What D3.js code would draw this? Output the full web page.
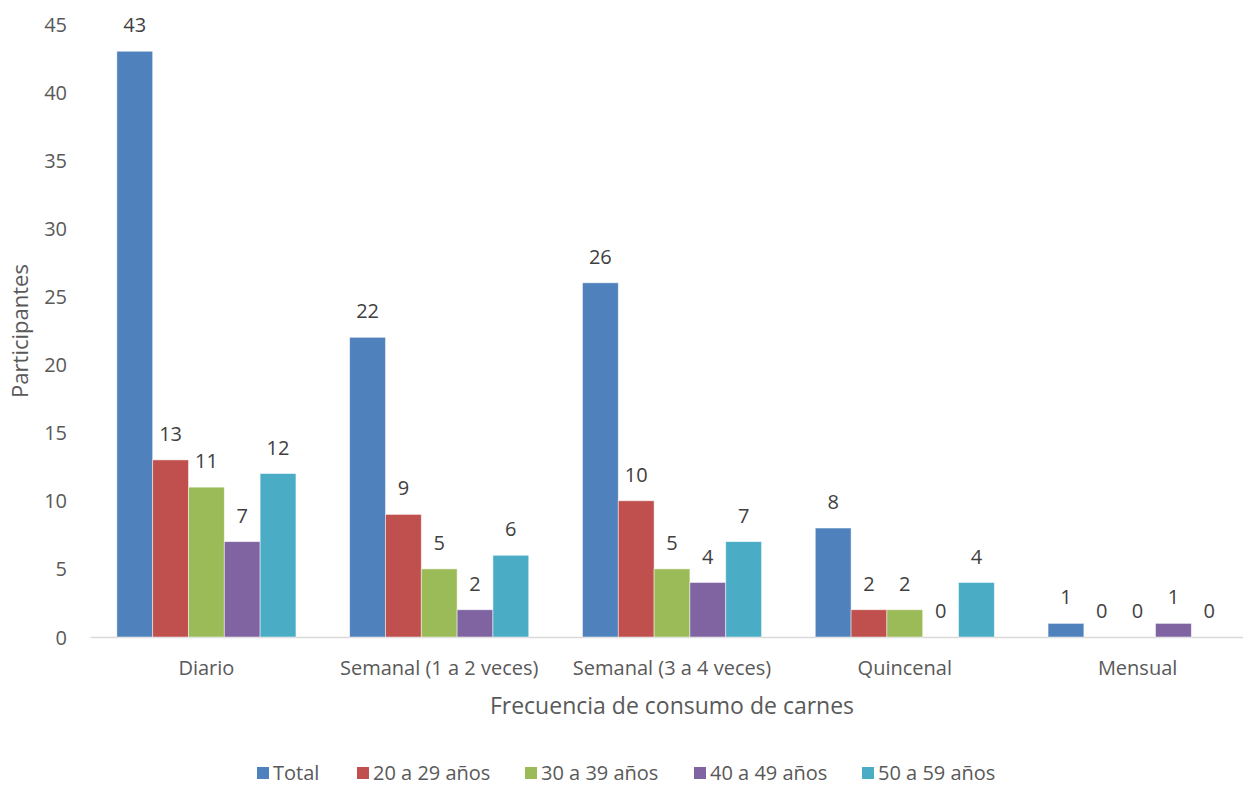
<!DOCTYPE html>
<html>
<head>
<meta charset="utf-8">
<script src="https://cdn.jsdelivr.net/npm/d3@7"></script>
<style>
  html, body { margin: 0; padding: 0; background: #fff; }
  svg { display: block; font-family: "Open Sans", "Noto Sans", sans-serif; }
</style>
</head>
<body>
<svg id="chart" width="1243" height="786"></svg>
<script>
// Frequency of meat consumption, by age group
const categories = ["Diario", "Semanal (1 a 2 veces)", "Semanal (3 a 4 veces)", "Quincenal", "Mensual"];
const seriesNames = ["Total", "20 a 29 años", "30 a 39 años", "40 a 49 años", "50 a 59 años"];
const total   = [43, 22, 26, 8, 1];
const age2029 = [13, 9, 10, 2, 0];
const age3039 = [11, 5, 5, 2, 0];
const age4049 = [7, 2, 4, 0, 1];
const age5059 = [12, 6, 7, 4, 0];
const yTicks = [0, 5, 10, 15, 20, 25, 30, 35, 40, 45];
const colors = ["#4f81bd", "#c0504d", "#9bbb59", "#8064a2", "#4bacc6"];

const seriesValues = [total, age2029, age3039, age4049, age5059];
const FONT = '"Open Sans", "Noto Sans", sans-serif';

const svg = d3.select("#chart");

const plot = { left: 90, right: 1254, top: 24, bottom: 637 };

const y = d3.scaleLinear().domain([0, 45]).range([plot.bottom, plot.top]);
const x0 = d3.scaleBand().domain(categories).range([plot.left, plot.right]).paddingInner(0).paddingOuter(0);
const x1 = d3.scaleBand().domain(seriesNames).range([0, x0.bandwidth()]).paddingOuter(0.75).paddingInner(0);

// y-axis tick labels (no axis line, no gridlines)
const yAxis = d3.axisLeft(y).tickValues(yTicks).tickSize(0).tickPadding(0);
const yg = svg.append("g").attr("transform", `translate(67,0)`).call(yAxis)
  .attr("font-family", FONT).attr("font-size", 20);
yg.select(".domain").remove();
yg.selectAll("text").attr("fill", "#595959").attr("dy", "0.35em");

// category axis
const xAxis = d3.axisBottom(x0).tickSize(0).tickPadding(0);
const xg = svg.append("g").attr("transform", `translate(0,${plot.bottom})`).call(xAxis)
  .attr("font-family", FONT).attr("font-size", 20);
xg.select(".domain").attr("stroke", "#d9d9d9").attr("stroke-width", 1.3);
xg.selectAll("text").attr("fill", "#595959").attr("y", 38).attr("dy", 0);

// bars
const groups = svg.append("g").selectAll("g")
  .data(categories)
  .join("g")
  .attr("transform", d => `translate(${x0(d)},0)`);

const rows = (c, ci) => seriesNames.map((s, si) => ({ s, si, v: seriesValues[si][ci] }));

groups.selectAll("rect")
  .data((c, ci) => rows(c, ci))
  .join("rect")
  .attr("x", d => x1(d.s))
  .attr("width", x1.bandwidth())
  .attr("y", d => y(d.v))
  .attr("height", d => y(0) - y(d.v))
  .attr("fill", d => colors[d.si])
  .attr("stroke", "#ffffff")
  .attr("stroke-opacity", 0.6)
  .attr("stroke-width", 0.8);

// value labels
groups.selectAll("text.val")
  .data((c, ci) => rows(c, ci))
  .join("text")
  .attr("class", "val")
  .attr("x", d => x1(d.s) + x1.bandwidth() / 2)
  .attr("y", d => y(d.v) - 26)
  .attr("dy", "0.35em")
  .attr("text-anchor", "middle")
  .attr("fill", "#404040")
  .style("font-size", "20px")
  .text(d => d.v);

// axis titles
svg.append("text")
  .attr("x", 672).attr("y", 714)
  .attr("text-anchor", "middle")
  .attr("fill", "#595959")
  .style("font-size", "23px")
  .text("Frecuencia de consumo de carnes");

svg.append("text")
  .attr("transform", "translate(28,331) rotate(-90)")
  .attr("text-anchor", "middle")
  .attr("fill", "#595959")
  .style("font-size", "22px")
  .text("Participantes");

// legend
const legendX = [257, 357, 525, 694, 862];
const legend = svg.append("g").selectAll("g")
  .data(seriesNames)
  .join("g")
  .attr("transform", (d, i) => `translate(${legendX[i]},773)`);
legend.append("rect")
  .attr("x", 0).attr("y", -6).attr("width", 12).attr("height", 12)
  .attr("fill", (d, i) => colors[i]);
legend.append("text")
  .attr("x", 16).attr("y", 0).attr("dy", "0.35em")
  .attr("fill", "#595959")
  .style("font-size", "20px")
  .text(d => d);
</script>
</body>
</html>
